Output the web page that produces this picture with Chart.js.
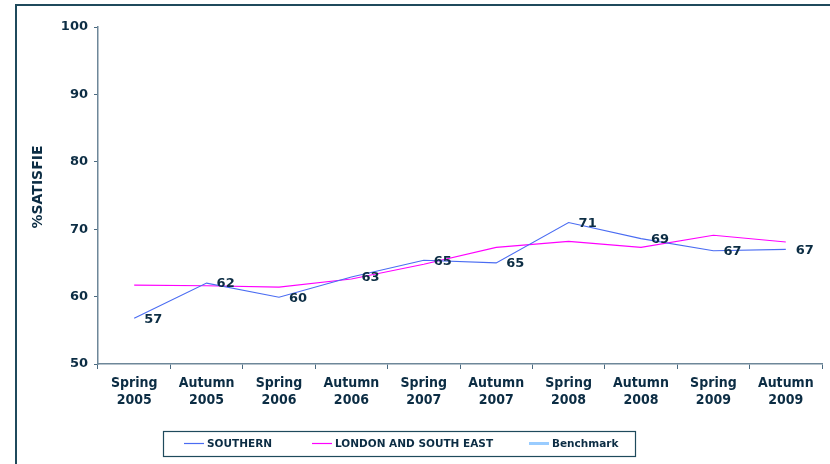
<!DOCTYPE html>
<html>
<head>
<meta charset="utf-8">
<script src="https://cdn.jsdelivr.net/npm/chart.js@4.4.1/dist/chart.umd.min.js"></script>
<style>
html,body{margin:0;padding:0;background:#fff;}
#wrap{position:relative;width:830px;height:464px;}
</style>
</head>
<body>
<div id="wrap"><canvas id="c" width="830" height="464"></canvas></div>
<script>
const categories = [["Spring","2005"],["Autumn","2005"],["Spring","2006"],["Autumn","2006"],["Spring","2007"],["Autumn","2007"],["Spring","2008"],["Autumn","2008"],["Spring","2009"],["Autumn","2009"]];
const southern = [56.8, 62.0, 59.9, 62.9, 65.4, 65.0, 71.0, 68.6, 66.8, 67.0];
const southernLabels = ["57","62","60","63","65","65","71","69","67","67"];
const londonSouthEast = [61.7, 61.6, 61.4, 62.6, 64.8, 67.3, 68.2, 67.3, 69.1, 68.1];
const benchmark = [];
const yTicks = [50, 60, 70, 80, 90, 100];
const seriesNames = ["SOUTHERN", "LONDON AND SOUTH EAST", "Benchmark"];
const yTitle = "%SATISFIE";

const NAVY = '#0C2D44';
const FONT = '"DejaVu Sans", Verdana, sans-serif';
const CFONT = '"DejaVu Sans Condensed", "DejaVu Sans", sans-serif';

const decor = {
  id: 'decor',
  afterDatasetsDraw(chart) {
    const ctx = chart.ctx;
    const meta = chart.getDatasetMeta(0);
    ctx.save();
    ctx.font = 'bold 13px ' + FONT;
    ctx.fillStyle = NAVY;
    ctx.textBaseline = 'middle';
    ctx.textAlign = 'left';
    meta.data.forEach((pt, i) => {
      ctx.fillText(southernLabels[i], pt.x + 10, pt.y + 1);
    });
    ctx.restore();
  },
  afterDraw(chart) {
    const ctx = chart.ctx;
    ctx.save();
    ctx.strokeStyle = '#1F4A5C';
    ctx.lineWidth = 2;
    ctx.strokeRect(16, 5, 900, 900);
    ctx.font = 'bold 14px ' + FONT;
    ctx.fillStyle = NAVY;
    ctx.translate(38, 187);
    ctx.rotate(-Math.PI / 2);
    ctx.textAlign = 'center';
    ctx.textBaseline = 'middle';
    ctx.fillText(yTitle, 0, 0);
    ctx.restore();

    ctx.save();
    ctx.strokeStyle = '#1F4A5C';
    ctx.lineWidth = 1.2;
    ctx.strokeRect(163.5, 431.5, 472, 25);
    const ly = 443.5;
    const starts = [184, 312, 529];
    ctx.font = 'bold 10.5px ' + FONT;
    ctx.fillStyle = NAVY;
    ctx.textBaseline = 'middle';
    chart.data.datasets.forEach((ds, i) => {
      const x = starts[i];
      ctx.strokeStyle = ds.borderColor;
      ctx.lineWidth = i === 2 ? 3 : 1.2;
      ctx.beginPath();
      ctx.moveTo(x, ly);
      ctx.lineTo(x + 20, ly);
      ctx.stroke();
      ctx.fillText(ds.label, x + 23, ly + 0.5);
    });
    ctx.restore();
  }
};

new Chart(document.getElementById('c'), {
  type: 'line',
  data: {
    labels: categories,
    datasets: [
      { label: seriesNames[0], data: southern, borderColor: '#4A6CF2', borderWidth: 1.1, pointRadius: 0, tension: 0, fill: false },
      { label: seriesNames[1], data: londonSouthEast, borderColor: '#FF00FF', borderWidth: 1.1, pointRadius: 0, tension: 0, fill: false },
      { label: seriesNames[2], data: benchmark, borderColor: '#99CCFF', borderWidth: 3, pointRadius: 0, tension: 0, fill: false }
    ]
  },
  options: {
    responsive: false,
    animation: false,
    events: [],
    layout: { padding: { left: 0, top: 27, right: 8, bottom: 50 } },
    plugins: { legend: { display: false }, tooltip: { enabled: false } },
    scales: {
      x: {
        offset: true,
        grid: { offset: true, drawOnChartArea: false, drawTicks: true, tickLength: 5, color: '#4A6A80' },
        border: { color: '#6E8799', width: 1.5 },
        ticks: { color: NAVY, font: { family: CFONT, weight: 'bold', size: 14, lineHeight: 1.2 }, maxRotation: 0, autoSkip: false, padding: 6 },
        afterFit(s) { s.height = 50; }
      },
      y: {
        min: 50, max: 100,
        afterBuildTicks(s) { s.ticks = yTicks.map(v => ({ value: v })); },
        grid: { drawOnChartArea: false, drawTicks: true, tickLength: 4, color: '#4A6A80' },
        border: { color: '#6E8799', width: 1.5 },
        ticks: { color: NAVY, font: { family: FONT, weight: 'bold', size: 13 }, padding: 6 },
        afterFit(s) { s.width = 98; }
      }
    }
  },
  plugins: [decor]
});
</script>
</body>
</html>
